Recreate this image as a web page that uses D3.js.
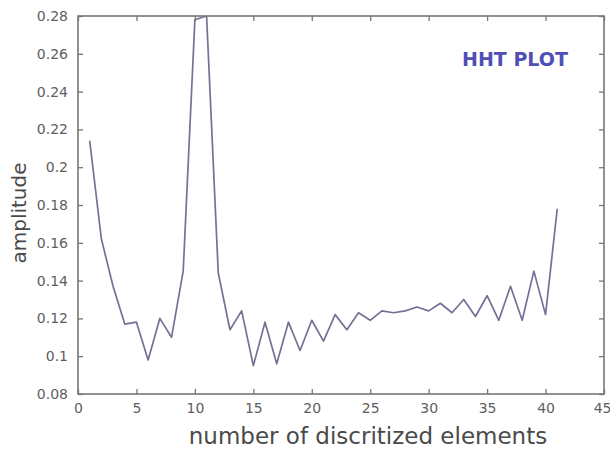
<!DOCTYPE html>
<html>
<head>
<meta charset="utf-8">
<script src="https://cdn.jsdelivr.net/npm/d3@7"></script>
<style>
  html, body { margin: 0; padding: 0; background: #ffffff; }
  svg { display: block; }
</style>
</head>
<body>
<svg id="chart" width="610" height="450"></svg>
<script>
// ---- data ----
const elements = [1,2,3,4,5,6,7,8,9,10,11,12,13,14,15,16,17,18,19,20,21,22,23,24,25,26,27,28,29,30,31,32,33,34,35,36,37,38,39,40,41];
const amplitude = [0.214,0.162,0.137,0.117,0.118,0.098,0.120,0.110,0.145,0.278,0.280,0.144,0.114,0.124,0.095,0.118,0.096,0.118,0.103,0.119,0.108,0.122,0.114,0.123,0.119,0.124,0.123,0.124,0.126,0.124,0.128,0.123,0.130,0.121,0.132,0.119,0.137,0.119,0.145,0.122,0.178];
const xTicks = [0,5,10,15,20,25,30,35,40,45];
const yTicks = [0.08,0.1,0.12,0.14,0.16,0.18,0.2,0.22,0.24,0.26,0.28];
const yTickLabels = ["0.08","0.1","0.12","0.14","0.16","0.18","0.2","0.22","0.24","0.26","0.28"];
const titleText = "HHT PLOT";
const xLabel = "number of discritized elements";
const yLabel = "amplitude";

// ---- layout ----
const L = 78, R = 604, T = 16, B = 394;
const svg = d3.select("#chart");
const x = d3.scaleLinear().domain([0,45]).range([L,R]);
const y = d3.scaleLinear().domain([0.08,0.28]).range([B,T]);
const axisColor = "#777777";
const textColor = "#5e5e5e";

svg.append("defs").append("clipPath").attr("id","clip")
  .append("rect").attr("x",L).attr("y",T).attr("width",R-L).attr("height",B-T);

// data line
const line = d3.line().x((d,i)=>x(elements[i])).y(d=>y(d));
svg.append("path").datum(amplitude)
  .attr("clip-path","url(#clip)")
  .attr("d", line)
  .attr("fill","none")
  .attr("stroke","#727296")
  .attr("stroke-width",1.7)
  .attr("stroke-linejoin","round");

// axes (MATLAB-style inward ticks on all sides)
const fmtY = d => yTickLabels[yTicks.indexOf(d)];
const axB = d3.axisBottom(x).tickValues(xTicks).tickSize(-5).tickPadding(9).tickFormat(d3.format("d"));
const axT = d3.axisTop(x).tickValues(xTicks).tickSize(-5).tickFormat("");
const axLft = d3.axisLeft(y).tickValues(yTicks).tickSize(-5).tickPadding(10).tickFormat(fmtY);
const axRt = d3.axisRight(y).tickValues(yTicks).tickSize(-5).tickFormat("");

function style(g){
  g.select(".domain").remove();
  g.selectAll(".tick line").attr("stroke",axisColor).attr("stroke-width",1.3);
  g.selectAll(".tick text").attr("fill",textColor)
    .style("font-family","'DejaVu Sans', sans-serif").style("font-size","14px");
}
const gB = svg.append("g").attr("transform",`translate(0,${B})`).call(axB).call(style);
// keep the last label inside the picture
gB.selectAll(".tick text").filter(d => d === 45).attr("text-anchor","end").attr("dx","7");
svg.append("g").attr("transform",`translate(0,${T})`).call(axT).call(style);
svg.append("g").attr("transform",`translate(${L},0)`).call(axLft).call(style);
svg.append("g").attr("transform",`translate(${R},0)`).call(axRt).call(style);

// frame
svg.append("rect").attr("x",L).attr("y",T).attr("width",R-L).attr("height",B-T)
  .attr("fill","none").attr("stroke",axisColor).attr("stroke-width",1.6);

// title inside plot
svg.append("text").attr("x",462).attr("y",66)
  .attr("fill","#4f4fb6")
  .style("font-family","'DejaVu Sans', sans-serif").style("font-weight","bold").style("font-size","19px")
  .text(titleText);

// axis labels
svg.append("text").attr("x",368).attr("y",444).attr("text-anchor","middle")
  .attr("fill","#4a4a4a")
  .style("font-family","'DejaVu Sans', sans-serif").style("font-size","23px")
  .text(xLabel);
svg.append("text").attr("transform","translate(26,213) rotate(-90)").attr("text-anchor","middle")
  .attr("fill","#4a4a4a")
  .style("font-family","'DejaVu Sans', sans-serif").style("font-size","20px")
  .text(yLabel);
</script>
</body>
</html>
